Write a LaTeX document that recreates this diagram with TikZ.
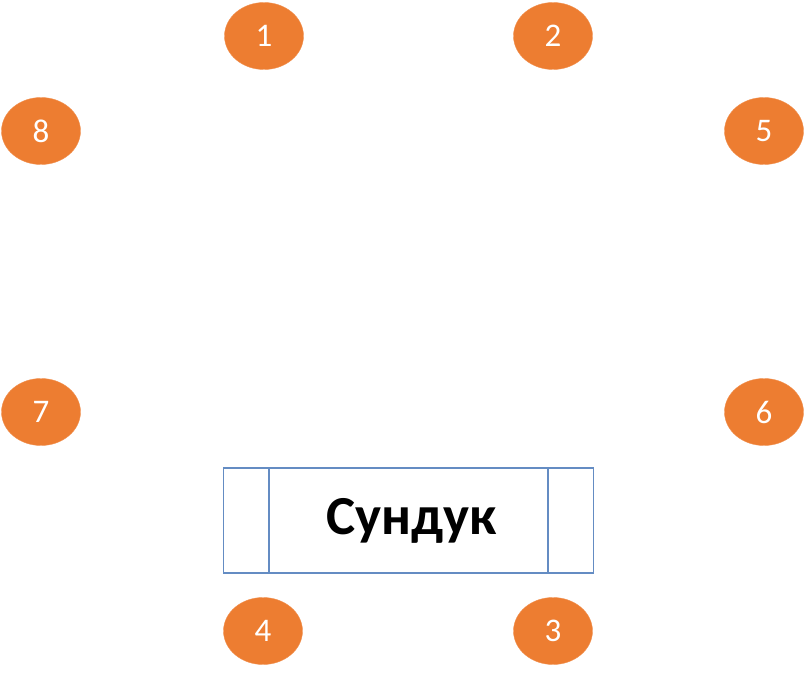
\documentclass[tikz,border=0pt]{standalone}
\usepackage{fontspec}
\setmainfont{Carlito}
\usetikzlibrary{positioning, shapes.geometric}
\definecolor{badge}{RGB}{237,125,49}
\definecolor{chestline}{RGB}{100,140,195}

\tikzset{
  marker/.style={ellipse, fill=badge, draw=badge!85!white, minimum width=79pt, minimum height=67pt, inner sep=0pt, text=white, font=\fontsize{33}{33}\selectfont},
  chest/.style={draw=chestline, line width=1.6pt}
}

\begin{document}
\begin{tikzpicture}[x=1pt, y=-1pt]
  \useasboundingbox (0,0) rectangle (807,674);
  % numbered spots
  \node[marker] (m1) at (264,36) {1};
  \node[marker] (m2) at (553,36) {2};
  \node[marker] (m3) at (553,631) {3};
  \node[marker] (m4) at (263,631) {4};
  \node[marker] (m5) at (764,131) {5};
  \node[marker] (m6) at (764,412) {6};
  \node[marker] (m7) at (41,412) {7};
  \node[marker] (m8) at (41,131) {8};
  % chest
  \node[chest, minimum width=370pt, minimum height=105pt, inner sep=0pt] (box) at (408.5,520.5) {};
  \draw[chest] ([xshift=46.5pt]box.north west) -- ([xshift=46.5pt]box.south west);
  \draw[chest] ([xshift=-46.5pt]box.north east) -- ([xshift=-46.5pt]box.south east);
  \node[font=\fontsize{55}{55}\selectfont\bfseries] (label) at ([xshift=3pt]box.center) {Сундук};
\end{tikzpicture}
\end{document}
